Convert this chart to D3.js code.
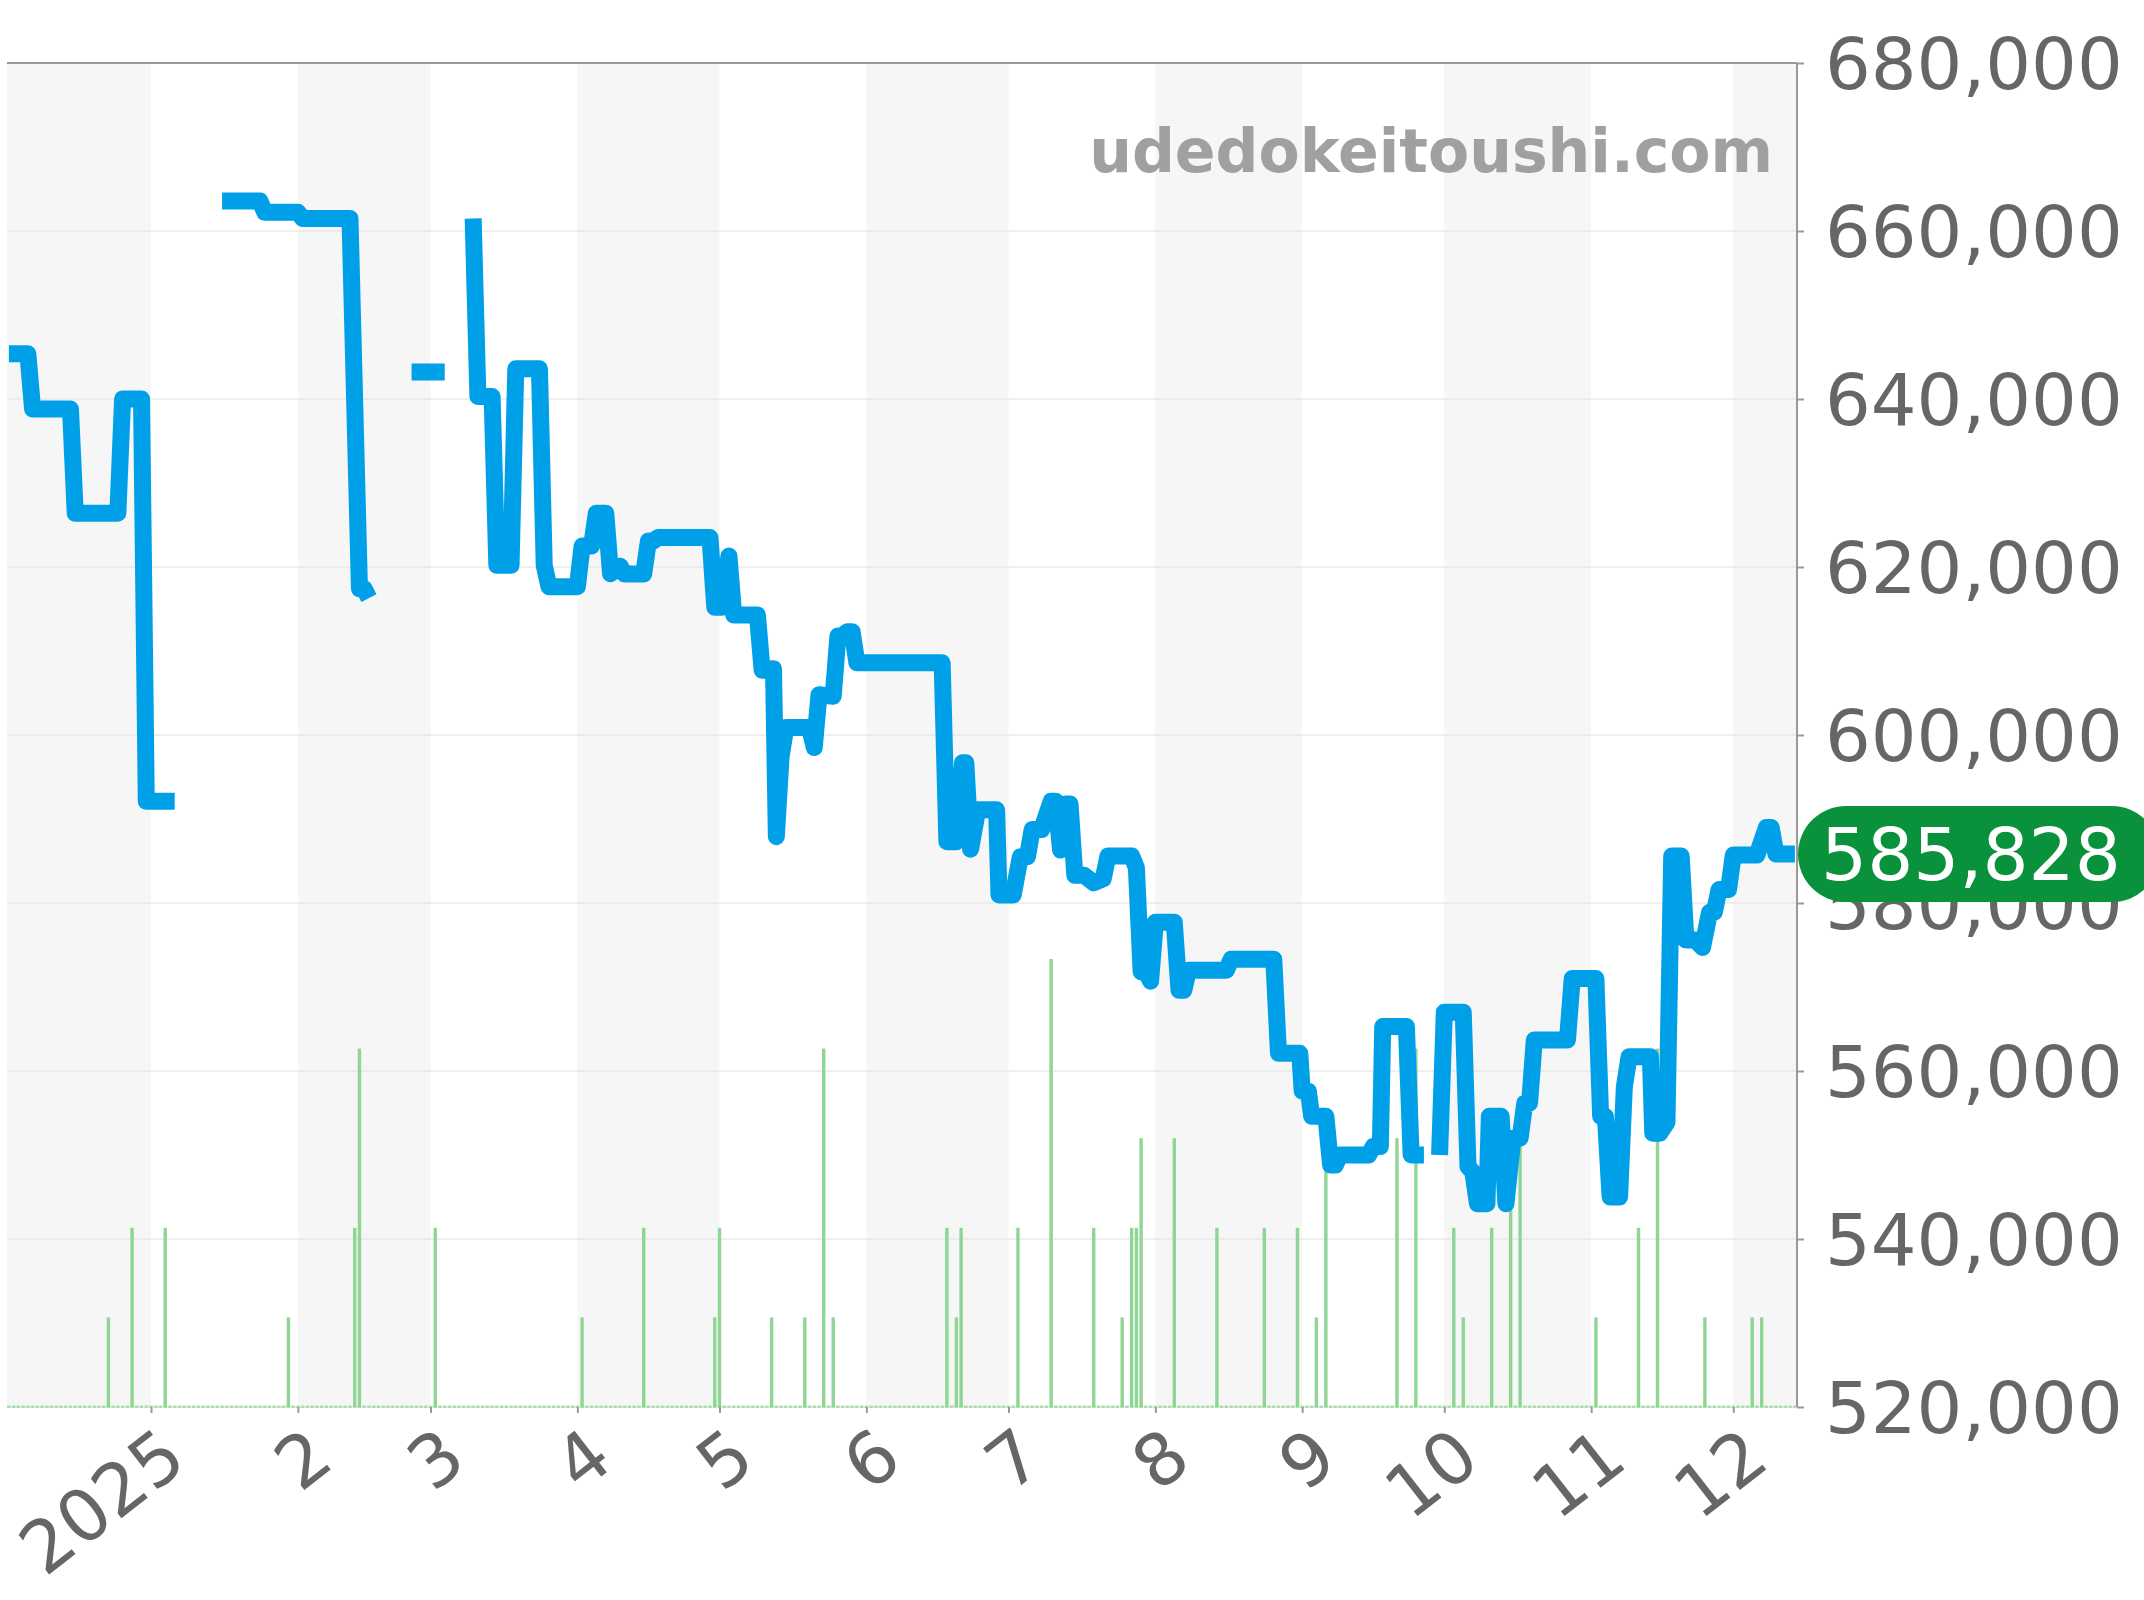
<!DOCTYPE html>
<html><head><meta charset="utf-8">
<script src="https://cdnjs.cloudflare.com/ajax/libs/d3/7.8.5/d3.min.js"></script>
<style>html,body{margin:0;padding:0;background:#fff}svg{display:block}text{font-family:"DejaVu Sans",sans-serif}</style>
</head><body><svg id="c" width="2144" height="1600"></svg>
<script>
// days counted from 2025-01-01; null marks a gap in the series
const priceDays = [-30,-26,-25,-17,-16,-7,-6,-2,-1,5,null,
 15,23,24,31,32,42,44,45,46,null,
 55,62,null,
 68,69,72,73,76,77,82,83,84,90,91,93,94,96,97,99,100,104,105,106,107,118,119,120.5,122,123,128,129,131.4,132,133,134,139,140,141,144,145,146,147,148,149,167,168,170,171.3,172,173,174.5,175,178.5,179,182,183.5,185,186,188,190,191,192,193,194,195,197,199,201,202,207,208,209,210,211,212,216,217,218,219,227,228,237,238,242.5,243,244.3,245,248,249,250,251,257,258,259.5,260,265,266,268.7,null,
 272,273,277,278,279,280,282,282.5,285,286,287.5,289,290,291,292,299,300,305,306,307,308,310,311,312,316.5,317,318.5,320,321,323,324,326,327.5,329,330,331,333,334,339,341,342,343,347];
const priceValues = [645400,645400,638800,638800,626400,626400,640000,640000,592100,592100,null,
 663570,663570,662240,662240,661500,661500,617400,617400,616300,null,
 643200,643200,null,
 661500,640300,640300,620200,620200,643600,643600,620200,617650,617650,622500,622500,626400,626400,619200,620100,619170,619170,623100,623100,623500,623500,615200,615200,621300,614300,614300,607700,607900,587900,597400,600900,600900,598500,604800,604600,611800,611800,612300,612300,608600,608600,587300,587300,596700,596700,586400,591100,591100,591100,580950,580950,585500,585500,588750,588750,592100,592100,586300,591800,591800,583300,583300,582400,582900,585600,585600,584200,571800,571800,570700,577700,577700,569600,569600,572000,572000,573300,573300,562100,562100,557600,557600,554600,554600,548800,548800,550000,550000,551000,551000,565300,565300,550000,550000,null,
 550000,567000,567000,548600,548000,544200,544200,554600,554600,544200,552000,552000,556200,556200,563700,563700,571000,571000,554600,554600,545000,545000,558100,561700,561700,552600,552600,553900,585600,585600,575600,575600,574700,578900,578900,581600,581600,585700,585700,589000,589000,585828,585828];
const volumeDays = [-9,-4,3,29,43,44,60,91,104,119,120,131,138,142,144,168,170,171,183,190,199,205,207,208,209,216,225,235,242,246,248,263,267,275,277,283,287,289,305,314,318,328,338,340];
const volumeValues = [1,2,2,1,2,4,2,1,2,1,2,1,1,4,1,2,1,2,2,5,2,1,2,2,3,3,2,2,2,1,3,3,4,2,1,2,3,3,1,2,4,1,1,1];
const priceTicks = [520000,540000,560000,580000,600000,620000,640000,660000,680000];
const monthLabels = ["2025","2","3","4","5","6","7","8","9","10","11","12"];
const lastPrice = 585828;
const siteName = "udedokeitoushi.com";

const M = {l:7,r:1797,t:63,b:1407};
const dayToDate = d => new Date(Date.UTC(2025,0,1) + d*864e5);
const x = d3.scaleUtc().domain([dayToDate(-30.4),dayToDate(347.45)]).range([M.l,M.r]);
const y = d3.scaleLinear().domain([520000,680000]).range([M.b,M.t]);
const yVol = d3.scaleLinear().domain([0,15]).range([M.b,M.t]);
const months = monthLabels.map((_,i)=>new Date(Date.UTC(2025,i,1)));
const svg = d3.select("#c");

const edges = [x.domain()[0],...months,x.domain()[1]];
svg.append("g").selectAll("rect").data(d3.pairs(edges).filter((_,i)=>i%2===0)).join("rect")
 .attr("x",d=>x(d[0])).attr("width",d=>x(d[1])-x(d[0]))
 .attr("y",M.t).attr("height",M.b-M.t).attr("fill","#f6f6f6");

svg.append("g").selectAll("line").data(priceTicks).join("line")
 .attr("x1",M.l).attr("x2",M.r).attr("y1",d=>y(d)).attr("y2",d=>y(d))
 .attr("stroke","#e0e0e0").attr("stroke-width",1.2);
svg.append("line").attr("x1",M.l).attr("x2",M.r).attr("y1",M.t).attr("y2",M.t).attr("stroke","#999").attr("stroke-width",2);

svg.append("g").selectAll("rect").data(d3.range(-30,348)).join("rect")
 .attr("x",d=>x(dayToDate(d))-1.7).attr("width",3.4).attr("y",M.b-1.5).attr("height",2.5).attr("fill","#a9dfad");
svg.append("g").selectAll("rect").data(volumeDays).join("rect")
 .attr("x",d=>x(dayToDate(d))-1.7).attr("width",3.4)
 .attr("y",(d,i)=>yVol(volumeValues[i])).attr("height",(d,i)=>M.b-yVol(volumeValues[i]))
 .attr("fill","#8fd694");

const axR = svg.append("g").attr("transform",`translate(${M.r},0)`)
 .call(d3.axisRight(y).tickValues(priceTicks).tickFormat(d3.format(",")).tickSize(7).tickPadding(21));
axR.select(".domain").attr("stroke","#999").attr("stroke-width",2).attr("d",`M0,${M.t}V${M.b}`);
axR.selectAll(".tick line").attr("stroke","#999").attr("stroke-width",2);
axR.selectAll("text").attr("font-size",72).attr("fill","#666").attr("font-family","DejaVu Sans").attr("dy","0.35em");

const axB = svg.append("g").attr("transform",`translate(0,${M.b})`)
 .call(d3.axisBottom(x).tickValues(months).tickFormat((d,i)=>monthLabels[i]).tickSize(6));
axB.select(".domain").remove();
axB.selectAll(".tick line").attr("stroke","#999").attr("stroke-width",2);
axB.selectAll("text").attr("font-size",72).attr("fill","#666").attr("font-family","DejaVu Sans")
 .attr("text-anchor","end").attr("dy",null).attr("y",0)
 .attr("transform","translate(38,58) rotate(-38)");

const line = d3.line().defined(d=>d[0]!==null&&d[1]!==null).x(d=>x(dayToDate(d[0]))).y(d=>y(d[1]));
svg.append("path").attr("d",line(priceDays.map((d,i)=>[d,priceValues[i]])))
 .attr("fill","none").attr("stroke","#00a0e9").attr("stroke-width",17).attr("stroke-linejoin","round").attr("stroke-linecap","butt");

svg.append("text").text(siteName).attr("x",1773).attr("y",172).attr("text-anchor","end")
 .attr("font-size",60).attr("font-weight","bold").attr("fill","#a0a0a0");

const py = y(lastPrice);
svg.append("rect").attr("x",M.r+1).attr("y",py-48).attr("width",362).attr("height",96).attr("rx",48).attr("fill","#0a913c");
svg.append("text").text(d3.format(",")(lastPrice)).attr("x",1821).attr("y",py+26).attr("font-size",72.5).attr("fill","#fff");
</script></body></html>
